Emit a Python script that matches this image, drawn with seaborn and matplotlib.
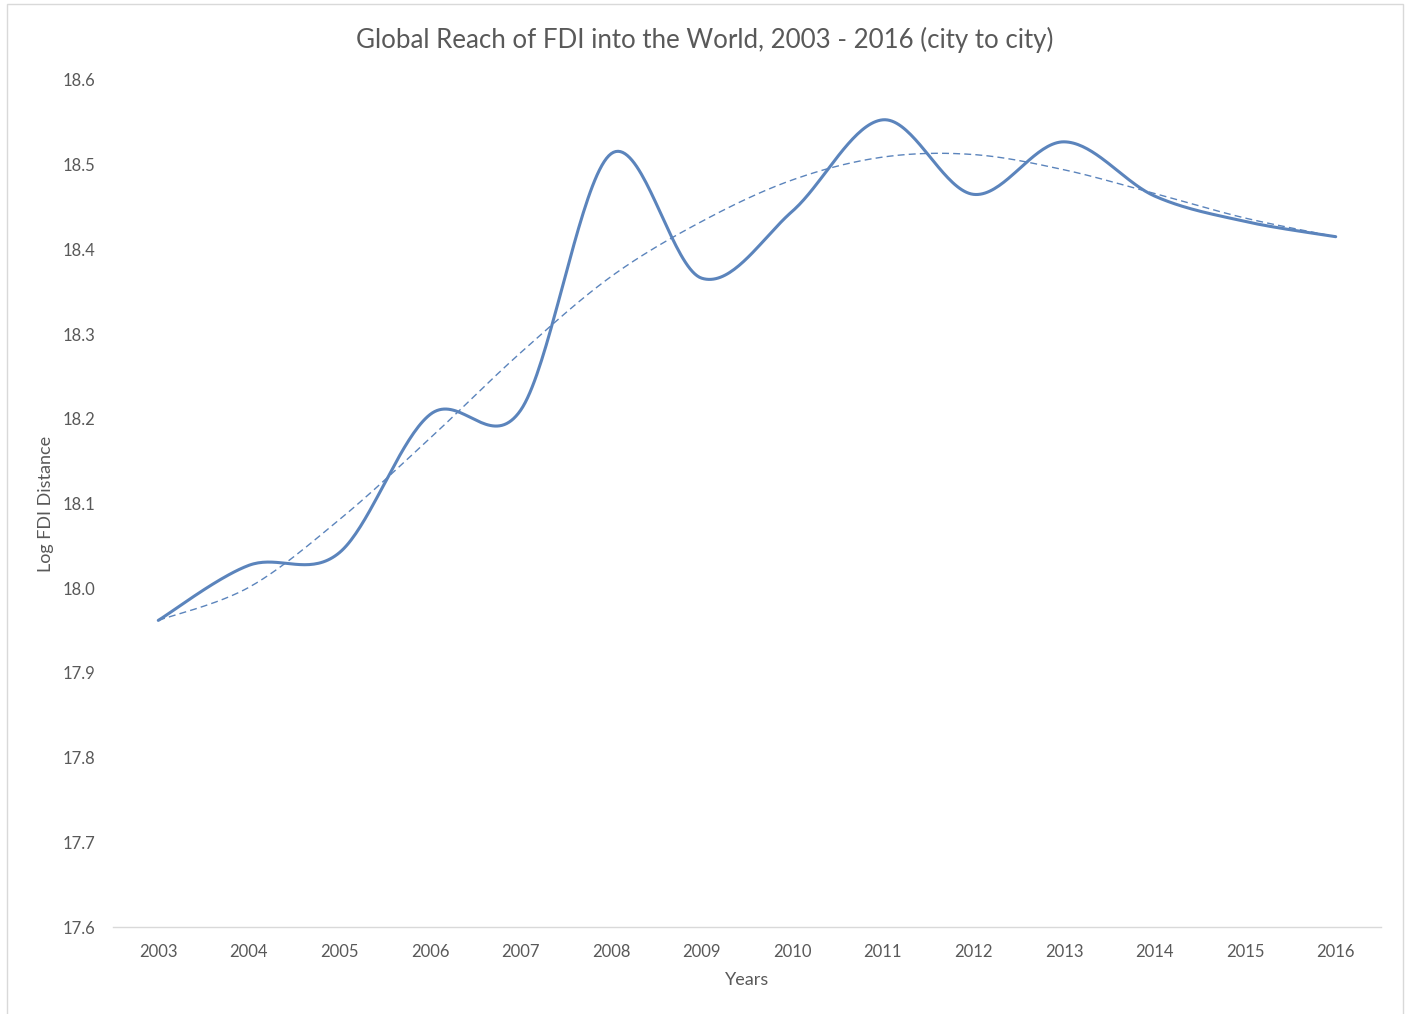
import numpy as np
import pandas as pd
import matplotlib
matplotlib.use("Agg")
import matplotlib.pyplot as plt
import seaborn as sns

# values
years = [2003, 2004, 2005, 2006, 2007, 2008, 2009, 2010, 2011, 2012, 2013, 2014, 2015, 2016]
log_fdi_distance = [17.962, 18.027, 18.042, 18.205, 18.21, 18.513, 18.366, 18.445, 18.553,
                    18.465, 18.527, 18.463, 18.433, 18.415]
trend_values = [17.962, 18.001, 18.081, 18.177, 18.278, 18.368, 18.433, 18.482, 18.509,
                18.512, 18.494, 18.466, 18.437, 18.415]
y_ticks = [17.6, 17.7, 17.8, 17.9, 18.0, 18.1, 18.2, 18.3, 18.4, 18.5, 18.6]


def smooth(xs, ys, n=40):
    # Excel style smoothed line: cubic bezier through every point
    xs = np.asarray(xs, float)
    ys = np.asarray(ys, float)
    px = np.concatenate([[xs[0]], xs, [xs[-1]]])
    py = np.concatenate([[ys[0]], ys, [ys[-1]]])
    out_x, out_y = [], []
    t = np.linspace(0, 1, n)
    for i in range(1, len(px) - 2):
        p0 = np.array([px[i], py[i]])
        p3 = np.array([px[i + 1], py[i + 1]])
        p1 = p0 + (p3 - np.array([px[i - 1], py[i - 1]])) / 6
        p2 = p3 - (np.array([px[i + 2], py[i + 2]]) - p0) / 6
        b = ((1 - t) ** 3)[:, None] * p0 + (3 * (1 - t) ** 2 * t)[:, None] * p1 \
            + (3 * (1 - t) * t ** 2)[:, None] * p2 + (t ** 3)[:, None] * p3
        out_x.extend(b[:, 0])
        out_y.extend(b[:, 1])
    return out_x, out_y


sx, sy = smooth(years, log_fdi_distance)
tx, ty = smooth(years, trend_values)
df_line = pd.DataFrame({"Years": sx, "Log FDI Distance": sy})
df_trend = pd.DataFrame({"Years": tx, "Log FDI Distance": ty})

sns.set_style("white")
plt.rcParams["font.family"] = ["Lato", "DejaVu Sans"]

fig = plt.figure(figsize=(14.07, 10.14), dpi=100)
ax = fig.add_axes([113 / 1407, 87 / 1014, 1268 / 1407, 847 / 1014])

sns.lineplot(data=df_trend, x="Years", y="Log FDI Distance", ax=ax, sort=False,
             estimator=None, color="#5B84BC", linewidth=1.0, linestyle=(0, (5, 3)))
sns.lineplot(data=df_line, x="Years", y="Log FDI Distance", ax=ax, sort=False,
             estimator=None, color="#5B84BC", linewidth=2.2)

ax.set_xlim(2002.5, 2016.5)
ax.set_ylim(17.6, 18.6)
ax.set_xticks(years)
ax.set_xticklabels([str(y) for y in years])
ax.set_yticks(y_ticks)
ax.set_yticklabels([f"{v:.1f}" for v in y_ticks])
ax.tick_params(axis="both", length=0, labelsize=12, labelcolor="#595959")
ax.tick_params(axis="y", pad=13)
ax.tick_params(axis="x", pad=12)

for side in ["top", "right", "left"]:
    ax.spines[side].set_visible(False)
ax.spines["bottom"].set_color("#D9D9D9")
ax.spines["bottom"].set_linewidth(1.0)

ax.set_xlabel("Years", fontsize=13, color="#595959", labelpad=9)
ax.set_ylabel("Log FDI Distance", fontsize=13, color="#595959", labelpad=6)

fig.text(705 / 1407, 1 - 40 / 1014, "Global Reach of FDI into the World, 2003 - 2016 (city to city)",
         ha="center", va="center", fontsize=18.6, color="#595959")

# chart area border
fig.patches.append(plt.Rectangle((7 / 1407, -0.01), (1403 - 7) / 1407, 1.01 - 4 / 1014,
                                 transform=fig.transFigure, fill=False,
                                 edgecolor="#D9D9D9", linewidth=1.0))

fig.savefig("out.png", dpi=100)
